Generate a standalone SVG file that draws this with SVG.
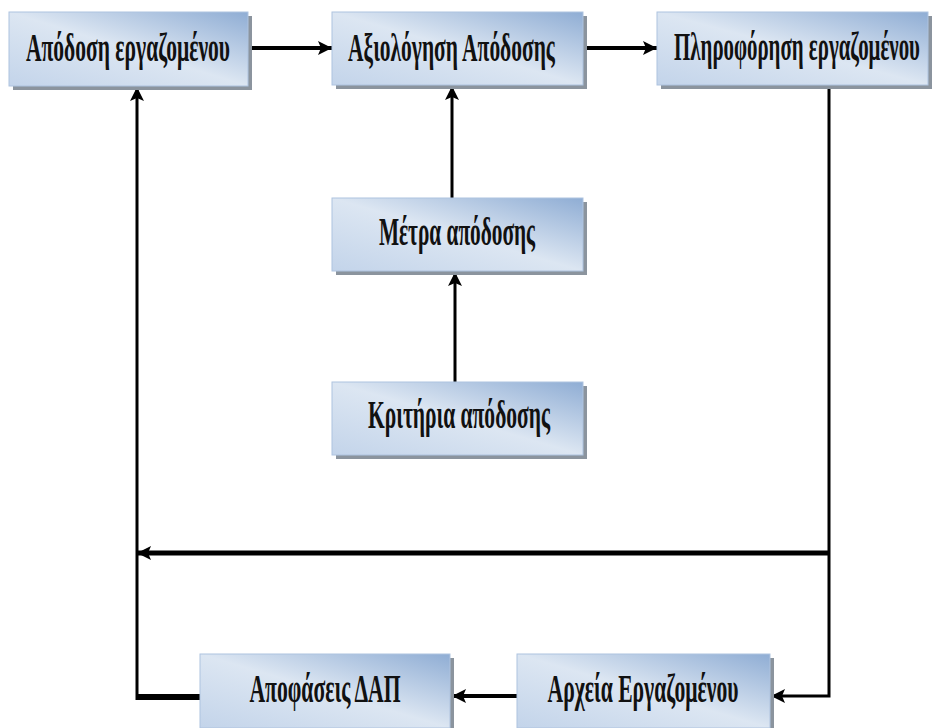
<svg xmlns="http://www.w3.org/2000/svg" width="936" height="728" viewBox="0 0 936 728">
<defs>
<linearGradient id="g" x1="1" y1="0" x2="0" y2="1">
<stop offset="0" stop-color="#8fadd4"/>
<stop offset="0.5" stop-color="#dce6f2"/>
<stop offset="1" stop-color="#c3d4ea"/>
</linearGradient>
<marker id="ah" viewBox="0 0 14 14" markerWidth="14" markerHeight="14" refX="14" refY="7" orient="auto" markerUnits="userSpaceOnUse">
<path d="M0,0 L14,7 L0,14 L3,7 z" fill="#000"/>
</marker>
</defs>
<style>
.sh{fill:#8b949e}
.bx{fill:url(#g);stroke:#aec3df;stroke-width:1}
.t{font-family:"Liberation Serif","DejaVu Serif",serif;font-weight:bold;font-size:40px;fill:#111;text-anchor:middle}
.c{fill:none;stroke:#000;stroke-linejoin:miter}
</style>
<rect width="936" height="728" fill="#fff"/>
<g id="connectors">
<path class="c" d="M248,48 H332" stroke-width="4" marker-end="url(#ah)"/>
<path class="c" d="M583,48 H657" stroke-width="4" marker-end="url(#ah)"/>
<path class="c" d="M452,198 V86" stroke-width="3" marker-end="url(#ah)"/>
<path class="c" d="M455,382 V272" stroke-width="3" marker-end="url(#ah)"/>
<path class="c" d="M829,87 V696 H771" stroke-width="3" marker-end="url(#ah)"/>
<path class="c" d="M828,553 H137" stroke-width="5" marker-end="url(#ah)"/>
<path class="c" d="M517,696 H452" stroke-width="4" marker-end="url(#ah)"/>
<path class="c" d="M200,697 H137" stroke-width="6"/>
<path class="c" d="M137,700 V87" stroke-width="3" marker-end="url(#ah)"/>
</g>
<g id="n1">
<rect class="sh" x="13" y="16" width="239" height="74"/>
<rect class="bx" x="9" y="12" width="239" height="74"/>
<text class="t" transform="translate(128,61) scale(0.55,1)" textLength="371" lengthAdjust="spacingAndGlyphs">Απόδοση εργαζομένου</text>
</g>
<g id="n2">
<rect class="sh" x="336" y="16" width="251" height="73"/>
<rect class="bx" x="332" y="12" width="251" height="73"/>
<text class="t" transform="translate(451.5,61) scale(0.55,1)" textLength="376" lengthAdjust="spacingAndGlyphs">Αξιολόγηση Απόδοσης</text>
</g>
<g id="n3">
<rect class="sh" x="661" y="16" width="271" height="73"/>
<rect class="bx" x="657" y="12" width="271" height="73"/>
<text class="t" transform="translate(797,60) scale(0.55,1)" textLength="447" lengthAdjust="spacingAndGlyphs">Πληροφόρηση εργαζομένου</text>
</g>
<g id="n4">
<rect class="sh" x="336" y="202" width="251" height="73"/>
<rect class="bx" x="332" y="198" width="251" height="73"/>
<text class="t" transform="translate(457,245) scale(0.55,1)" textLength="284" lengthAdjust="spacingAndGlyphs">Μέτρα απόδοσης</text>
</g>
<g id="n5">
<rect class="sh" x="336" y="386" width="251" height="73"/>
<rect class="bx" x="332" y="382" width="251" height="73"/>
<text class="t" transform="translate(459,428) scale(0.55,1)" textLength="331" lengthAdjust="spacingAndGlyphs">Κριτήρια απόδοσης</text>
</g>
<g id="n6">
<rect class="sh" x="204" y="658" width="250" height="74"/>
<rect class="bx" x="200" y="654" width="250" height="74"/>
<text class="t" transform="translate(325,702) scale(0.55,1)" textLength="275" lengthAdjust="spacingAndGlyphs">Αποφάσεις ΔΑΠ</text>
</g>
<g id="n7">
<rect class="sh" x="521" y="658" width="253" height="74"/>
<rect class="bx" x="517" y="654" width="253" height="74"/>
<text class="t" transform="translate(643,702) scale(0.55,1)" textLength="347" lengthAdjust="spacingAndGlyphs">Αρχεία Εργαζομένου</text>
</g>
</svg>
